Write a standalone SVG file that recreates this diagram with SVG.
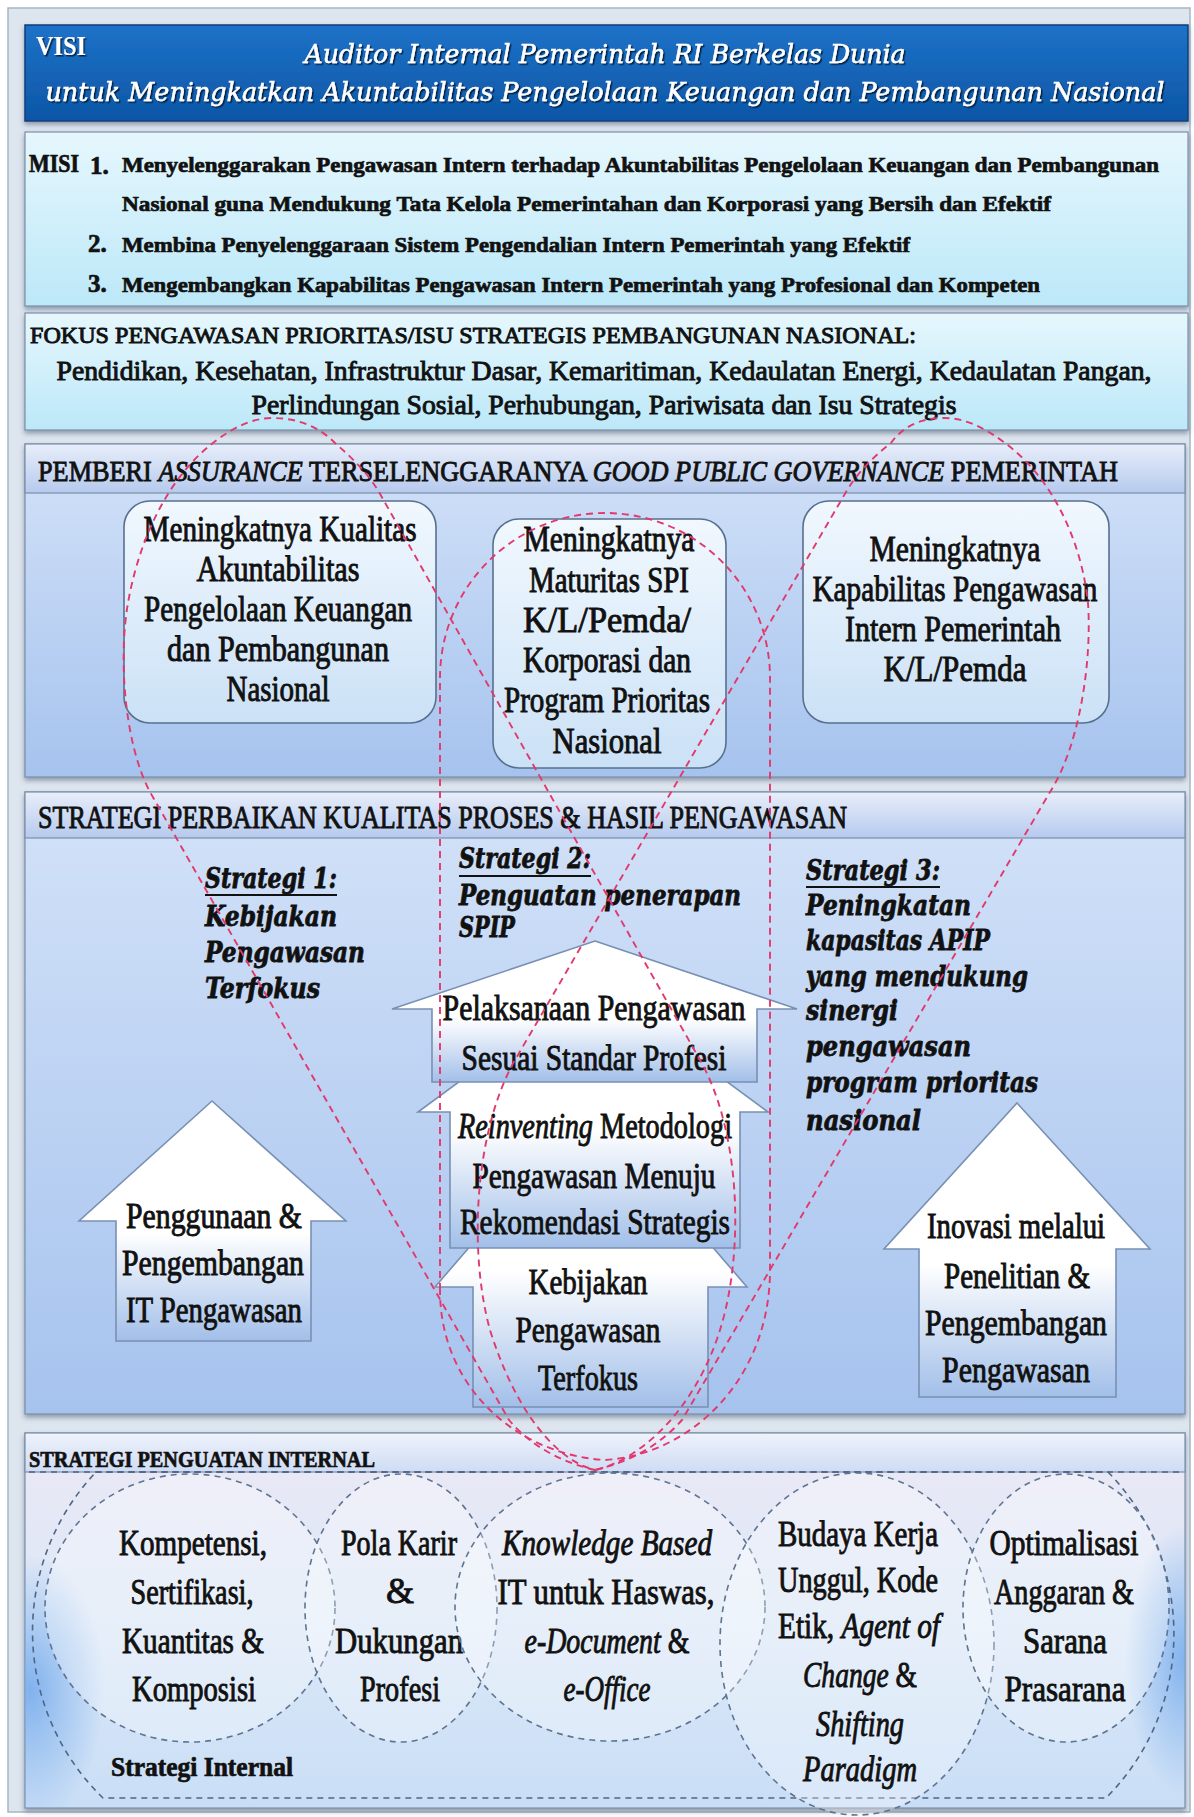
<svg xmlns="http://www.w3.org/2000/svg" width="1194" height="1817" viewBox="0 0 1194 1817">
<defs>
  <linearGradient id="gBan" x1="0" y1="0" x2="0" y2="1">
    <stop offset="0" stop-color="#1d72c8"/><stop offset="1" stop-color="#0d56a6"/>
  </linearGradient>
  <linearGradient id="gCyan" x1="0" y1="0" x2="0" y2="1">
    <stop offset="0" stop-color="#e6f7fd"/><stop offset="1" stop-color="#bce8f8"/>
  </linearGradient>
  <linearGradient id="gHead" x1="0" y1="0" x2="0" y2="1">
    <stop offset="0" stop-color="#e8eefa"/><stop offset="1" stop-color="#b6caee"/>
  </linearGradient>
  <linearGradient id="gHeadLow" x1="0" y1="0" x2="0" y2="1">
    <stop offset="0" stop-color="#eef2fb"/><stop offset="1" stop-color="#cfdcf4"/>
  </linearGradient>
  <linearGradient id="gBody" x1="0" y1="0" x2="0" y2="1">
    <stop offset="0" stop-color="#d3e2f8"/><stop offset="1" stop-color="#a6c3ee"/>
  </linearGradient>
  <linearGradient id="gBox" x1="0" y1="0" x2="0" y2="1">
    <stop offset="0" stop-color="#f1f8fe"/><stop offset="1" stop-color="#cbe1f6"/>
  </linearGradient>
  <linearGradient id="gArrow" x1="0" y1="0" x2="0" y2="1">
    <stop offset="0" stop-color="#ffffff"/><stop offset="0.55" stop-color="#ffffff"/><stop offset="1" stop-color="#a2bfe9"/>
  </linearGradient>
  <linearGradient id="gLow" x1="0" y1="0" x2="0" y2="1">
    <stop offset="0" stop-color="#ece8f5"/><stop offset="0.5" stop-color="#dce8f7"/><stop offset="1" stop-color="#c9def6"/>
  </linearGradient>
  <radialGradient id="gGlow" cx="0.5" cy="0.5" r="0.5">
    <stop offset="0" stop-color="#72a9ec" stop-opacity="0.85"/><stop offset="1" stop-color="#72a9ec" stop-opacity="0"/>
  </radialGradient>
  <clipPath id="lowClip"><rect x="25" y="1433" width="1160" height="375"/></clipPath>
  <filter id="sh" x="-5%" y="-30%" width="110%" height="160%">
    <feDropShadow dx="1.5" dy="1.5" stdDeviation="0.7" flood-color="#061f40" flood-opacity="0.95"/>
  </filter>
  <filter id="ps" x="-2%" y="-5%" width="104%" height="115%">
    <feDropShadow dx="0" dy="3" stdDeviation="2.5" flood-color="#4c5d75" flood-opacity="0.55"/>
  </filter>
</defs>
<style>
  .t { font-family: 'Liberation Serif', 'DejaVu Serif', serif; fill: #111; stroke: #111; stroke-width: 0.9; }
  .b { font-weight: bold; stroke-width: 0.7; }
  .i { font-style: italic; }
  .c { text-anchor: middle; }
  .slab { font-family: 'DejaVu Serif', serif; font-weight: bold; font-style: italic; fill: #111; stroke: #111; stroke-width: 0.8; font-size: 27px; }
  .ban { font-family: 'DejaVu Serif', serif; font-style: italic; fill: #ffffff; stroke: #ffffff; stroke-width: 0.5; font-size: 26px; filter: url(#sh); }
  .visi { font-family: 'Liberation Serif', serif; font-weight: bold; font-size: 28px; fill: #ffffff; filter: url(#sh); }
  .panel { stroke: #7a8fa9; stroke-width: 1.2; filter: url(#ps); }
  .box { fill: url(#gBox); stroke: #57708f; stroke-width: 1.6; }
  .arrow { fill: url(#gArrow); stroke: #7890b2; stroke-width: 1.6; }
  .cir { fill: #ffffff; fill-opacity: 0.3; stroke: #5e7492; stroke-width: 1.6; stroke-dasharray: 6 5; }
  .outline { fill: none; stroke: #4e6686; stroke-width: 1.6; stroke-dasharray: 6 5; }
  .rd { fill: none; stroke: #e2396d; stroke-width: 1.9; stroke-dasharray: 7 5; }
  .ul { stroke: #111; stroke-width: 1.8; }
</style>

<!-- page and frame -->
<rect x="0" y="0" width="1194" height="1817" fill="#ffffff"/>
<rect x="8" y="8" width="1182" height="1804" fill="#dde5ee" stroke="#a8b5c5" stroke-width="1.5"/>

<!-- VISI -->
<g id="visi">
  <rect x="25" y="25" width="1163" height="96" fill="url(#gBan)" stroke="#0a3f7c" stroke-width="1.5" filter="url(#ps)"/>
  <text class="visi" x="36" y="55" textLength="50" lengthAdjust="spacingAndGlyphs">VISI</text>
  <text class="ban c" x="605" y="63" textLength="601" lengthAdjust="spacingAndGlyphs">Auditor Internal Pemerintah RI Berkelas Dunia</text>
  <text class="ban c" x="605" y="101" textLength="1119" lengthAdjust="spacingAndGlyphs">untuk Meningkatkan Akuntabilitas Pengelolaan Keuangan dan Pembangunan Nasional</text>
</g>

<!-- MISI -->
<g id="misi">
  <rect class="panel" x="25" y="132" width="1163" height="174" fill="url(#gCyan)"/>
  <g class="t b" font-size="22">
    <text x="29" y="172" font-size="25" textLength="50" lengthAdjust="spacingAndGlyphs">MISI</text>
    <text x="90" y="174" font-size="25">1.</text>
    <text x="122" y="172" textLength="1037" lengthAdjust="spacingAndGlyphs">Menyelenggarakan Pengawasan Intern terhadap Akuntabilitas Pengelolaan Keuangan dan Pembangunan</text>
    <text x="122" y="211" textLength="929" lengthAdjust="spacingAndGlyphs">Nasional guna Mendukung Tata Kelola Pemerintahan dan Korporasi yang Bersih dan Efektif</text>
    <text x="88" y="252" font-size="25">2.</text>
    <text x="122" y="252" textLength="788" lengthAdjust="spacingAndGlyphs">Membina Penyelenggaraan Sistem Pengendalian Intern Pemerintah yang Efektif</text>
    <text x="88" y="292" font-size="25">3.</text>
    <text x="122" y="292" textLength="918" lengthAdjust="spacingAndGlyphs">Mengembangkan Kapabilitas Pengawasan Intern Pemerintah yang Profesional dan Kompeten</text>
  </g>
</g>

<!-- FOKUS -->
<g id="fokus">
  <rect class="panel" x="25" y="313" width="1163" height="117" fill="url(#gCyan)"/>
  <g class="t">
    <text x="30" y="343" font-size="23" textLength="886" lengthAdjust="spacingAndGlyphs">FOKUS PENGAWASAN PRIORITAS/ISU STRATEGIS PEMBANGUNAN NASIONAL:</text>
    <text class="c" x="604" y="380" font-size="27" textLength="1095" lengthAdjust="spacingAndGlyphs">Pendidikan, Kesehatan, Infrastruktur Dasar, Kemaritiman, Kedaulatan Energi, Kedaulatan Pangan,</text>
    <text class="c" x="604" y="414" font-size="27" textLength="705" lengthAdjust="spacingAndGlyphs">Perlindungan Sosial, Perhubungan, Pariwisata dan Isu Strategis</text>
  </g>
</g>

<!-- ASSURANCE panel -->
<g id="assurance">
  <rect class="panel" x="25" y="444" width="1160" height="333" fill="url(#gBody)"/>
  <rect x="25" y="444" width="1160" height="49" fill="url(#gHead)" stroke="#7a8fa9" stroke-width="1.2"/>
  <text class="t" x="38" y="481" font-size="30" textLength="1080" lengthAdjust="spacingAndGlyphs">PEMBERI <tspan class="i">ASSURANCE</tspan> TERSELENGGARANYA <tspan class="i">GOOD PUBLIC GOVERNANCE</tspan> PEMERINTAH</text>
</g>

<g id="out-akuntabilitas">
  <rect class="box" x="124" y="501" width="312" height="222" rx="26"/>
  <g class="t c" font-size="35">
    <text x="280" y="541" textLength="273" lengthAdjust="spacingAndGlyphs">Meningkatnya Kualitas</text>
    <text x="278" y="581" textLength="163" lengthAdjust="spacingAndGlyphs">Akuntabilitas</text>
    <text x="278" y="621" textLength="268" lengthAdjust="spacingAndGlyphs">Pengelolaan Keuangan</text>
    <text x="278" y="661" textLength="222" lengthAdjust="spacingAndGlyphs">dan Pembangunan</text>
    <text x="278" y="701" textLength="103" lengthAdjust="spacingAndGlyphs">Nasional</text>
  </g>
</g>

<g id="out-maturitas">
  <rect class="box" x="493" y="519" width="233" height="249" rx="26"/>
  <g class="t c" font-size="35">
    <text x="609" y="551" textLength="171" lengthAdjust="spacingAndGlyphs">Meningkatnya</text>
    <text x="609" y="592" textLength="160" lengthAdjust="spacingAndGlyphs">Maturitas SPI</text>
    <text x="607" y="632" textLength="168" lengthAdjust="spacingAndGlyphs">K/L/Pemda/</text>
    <text x="607" y="672" textLength="168" lengthAdjust="spacingAndGlyphs">Korporasi dan</text>
    <text x="607" y="712" textLength="206" lengthAdjust="spacingAndGlyphs">Program Prioritas</text>
    <text x="607" y="753" textLength="109" lengthAdjust="spacingAndGlyphs">Nasional</text>
  </g>
</g>

<g id="out-kapabilitas">
  <rect class="box" x="803" y="501" width="306" height="222" rx="26"/>
  <g class="t c" font-size="35">
    <text x="955" y="561" textLength="171" lengthAdjust="spacingAndGlyphs">Meningkatnya</text>
    <text x="955" y="601" textLength="285" lengthAdjust="spacingAndGlyphs">Kapabilitas Pengawasan</text>
    <text x="953" y="641" textLength="216" lengthAdjust="spacingAndGlyphs">Intern Pemerintah</text>
    <text x="955" y="681" textLength="143" lengthAdjust="spacingAndGlyphs">K/L/Pemda</text>
  </g>
</g>

<!-- STRATEGI panel -->
<g id="strategi">
  <rect class="panel" x="25" y="792" width="1160" height="622" fill="url(#gBody)"/>
  <rect x="25" y="792" width="1160" height="46" fill="url(#gHead)" stroke="#7a8fa9" stroke-width="1.2"/>
  <text class="t" x="38" y="828" font-size="31" textLength="809" lengthAdjust="spacingAndGlyphs">STRATEGI PERBAIKAN KUALITAS PROSES &amp; HASIL PENGAWASAN</text>
</g>

<g id="strategi-1">
  <text class="slab" x="205" y="888" textLength="132" lengthAdjust="spacingAndGlyphs">Strategi 1:</text>
  <line class="ul" x1="205" y1="895" x2="337" y2="895"/>
  <text class="slab" x="205" y="926" textLength="132" lengthAdjust="spacingAndGlyphs">Kebijakan</text>
  <text class="slab" x="205" y="962" textLength="160" lengthAdjust="spacingAndGlyphs">Pengawasan</text>
  <text class="slab" x="205" y="998" textLength="115" lengthAdjust="spacingAndGlyphs">Terfokus</text>
</g>
<g id="strategi-2">
  <text class="slab" x="459" y="868" textLength="132" lengthAdjust="spacingAndGlyphs">Strategi 2:</text>
  <line class="ul" x1="459" y1="876" x2="591" y2="876"/>
  <text class="slab" x="459" y="905" font-size="25" textLength="282" lengthAdjust="spacingAndGlyphs">Penguatan penerapan</text>
  <text class="slab" x="459" y="937" textLength="56" lengthAdjust="spacingAndGlyphs">SPIP</text>
</g>
<g id="strategi-3">
  <text class="slab" x="806" y="880" textLength="134" lengthAdjust="spacingAndGlyphs">Strategi 3:</text>
  <line class="ul" x1="806" y1="887" x2="940" y2="887"/>
  <text class="slab" x="806" y="915" textLength="165" lengthAdjust="spacingAndGlyphs">Peningkatan</text>
  <text class="slab" x="806" y="950" textLength="184" lengthAdjust="spacingAndGlyphs">kapasitas APIP</text>
  <text class="slab" x="806" y="986" textLength="222" lengthAdjust="spacingAndGlyphs">yang mendukung</text>
  <text class="slab" x="806" y="1020" textLength="92" lengthAdjust="spacingAndGlyphs">sinergi</text>
  <text class="slab" x="806" y="1056" textLength="165" lengthAdjust="spacingAndGlyphs">pengawasan</text>
  <text class="slab" x="806" y="1092" textLength="232" lengthAdjust="spacingAndGlyphs">program prioritas</text>
  <text class="slab" x="806" y="1130" textLength="115" lengthAdjust="spacingAndGlyphs">nasional</text>
</g>

<!-- up arrows -->
<g id="arrow-it">
  <polygon class="arrow" points="212,1101 346,1221 311,1221 311,1341 116,1341 116,1221 79,1221"/>
  <g class="t c" font-size="35">
    <text x="214" y="1228" textLength="176" lengthAdjust="spacingAndGlyphs">Penggunaan &amp;</text>
    <text x="213" y="1275" textLength="182" lengthAdjust="spacingAndGlyphs">Pengembangan</text>
    <text x="214" y="1322" textLength="176" lengthAdjust="spacingAndGlyphs">IT Pengawasan</text>
  </g>
</g>

<g id="arrow-kebijakan">
  <polygon class="arrow" points="591,1106 747,1287 708,1287 708,1407 473,1407 473,1287 435,1287"/>
  <g class="t c" font-size="36">
    <text x="588" y="1294" textLength="119" lengthAdjust="spacingAndGlyphs">Kebijakan</text>
    <text x="588" y="1342" textLength="145" lengthAdjust="spacingAndGlyphs">Pengawasan</text>
    <text x="588" y="1390" textLength="100" lengthAdjust="spacingAndGlyphs">Terfokus</text>
  </g>
</g>

<g id="arrow-reinventing">
  <polygon class="arrow" points="593,983 768,1112 740,1112 740,1248 450,1248 450,1112 418,1112"/>
  <g class="t c" font-size="36">
    <text x="595" y="1138" textLength="274" lengthAdjust="spacingAndGlyphs"><tspan class="i">Reinventing</tspan> Metodologi</text>
    <text x="594" y="1188" textLength="243" lengthAdjust="spacingAndGlyphs">Pengawasan Menuju</text>
    <text x="595" y="1234" textLength="270" lengthAdjust="spacingAndGlyphs">Rekomendasi Strategis</text>
  </g>
</g>

<g id="arrow-pelaksanaan">
  <polygon class="arrow" points="595,941 797,1009 757,1009 757,1082 432,1082 432,1009 392,1009"/>
  <g class="t c" font-size="36">
    <text x="594" y="1020" textLength="303" lengthAdjust="spacingAndGlyphs">Pelaksanaan Pengawasan</text>
    <text x="594" y="1070" textLength="265" lengthAdjust="spacingAndGlyphs">Sesuai Standar Profesi</text>
  </g>
</g>

<g id="arrow-inovasi">
  <polygon class="arrow" points="1017,1103 1150,1249 1116,1249 1116,1397 919,1397 919,1249 884,1249"/>
  <g class="t c" font-size="35">
    <text x="1016" y="1238" textLength="178" lengthAdjust="spacingAndGlyphs">Inovasi melalui</text>
    <text x="1017" y="1288" textLength="146" lengthAdjust="spacingAndGlyphs">Penelitian &amp;</text>
    <text x="1016" y="1335" textLength="182" lengthAdjust="spacingAndGlyphs">Pengembangan</text>
    <text x="1016" y="1382" textLength="148" lengthAdjust="spacingAndGlyphs">Pengawasan</text>
  </g>
</g>

<!-- internal strengthening panel -->
<g id="penguatan">
  <rect class="panel" x="25" y="1433" width="1160" height="375" fill="url(#gLow)"/>
  <g clip-path="url(#lowClip)">
    <ellipse cx="30" cy="1690" rx="75" ry="135" fill="url(#gGlow)"/>
    <ellipse cx="1185" cy="1660" rx="60" ry="135" fill="url(#gGlow)"/>
  </g>
  <rect x="25" y="1433" width="1160" height="39" fill="url(#gHeadLow)" stroke="#7a8fa9" stroke-width="1.2"/>
  <line class="outline" x1="29" y1="1472" x2="1180" y2="1472"/>
  <path class="outline" d="M 96,1472 L 1108,1472 A 232 232 0 0 1 1106,1798 L 103,1798 A 232 232 0 0 1 96,1472 Z"/>
  <text class="t b" x="29" y="1467" font-size="24" textLength="346" lengthAdjust="spacingAndGlyphs">STRATEGI PENGUATAN INTERNAL</text>
  <text class="t b" x="111" y="1776" font-size="27" textLength="182" lengthAdjust="spacingAndGlyphs">Strategi Internal</text>
</g>

<g id="kompetensi">
  <ellipse class="cir" cx="190" cy="1608" rx="145" ry="134"/>
  <g class="t c" font-size="36">
    <text x="193" y="1555" textLength="148" lengthAdjust="spacingAndGlyphs">Kompetensi,</text>
    <text x="192" y="1604" textLength="123" lengthAdjust="spacingAndGlyphs">Sertifikasi,</text>
    <text x="193" y="1653" textLength="142" lengthAdjust="spacingAndGlyphs">Kuantitas &amp;</text>
    <text x="194" y="1701" textLength="124" lengthAdjust="spacingAndGlyphs">Komposisi</text>
  </g>
</g>

<g id="karir">
  <ellipse class="cir" cx="401" cy="1608" rx="96" ry="134"/>
  <g class="t c" font-size="36">
    <text x="399" y="1555" textLength="116" lengthAdjust="spacingAndGlyphs">Pola Karir</text>
    <text x="400" y="1603">&amp;</text>
    <text x="399" y="1653" textLength="128" lengthAdjust="spacingAndGlyphs">Dukungan</text>
    <text x="400" y="1701" textLength="80" lengthAdjust="spacingAndGlyphs">Profesi</text>
  </g>
</g>

<g id="knowledge">
  <ellipse class="cir" cx="610" cy="1607" rx="155" ry="134"/>
  <g class="t c" font-size="36">
    <text class="i" x="607" y="1555" textLength="210" lengthAdjust="spacingAndGlyphs">Knowledge Based</text>
    <text x="606" y="1604" textLength="217" lengthAdjust="spacingAndGlyphs">IT untuk Haswas,</text>
    <text x="607" y="1653" textLength="165" lengthAdjust="spacingAndGlyphs"><tspan class="i">e-Document</tspan> &amp;</text>
    <text class="i" x="607" y="1701" textLength="87" lengthAdjust="spacingAndGlyphs">e-Office</text>
  </g>
</g>

<g id="budaya">
  <ellipse class="cir" cx="857" cy="1644" rx="137" ry="171"/>
  <g class="t c" font-size="36">
    <text x="858" y="1546" textLength="160" lengthAdjust="spacingAndGlyphs">Budaya Kerja</text>
    <text x="858" y="1592" textLength="160" lengthAdjust="spacingAndGlyphs">Unggul, Kode</text>
    <text x="859" y="1638" textLength="162" lengthAdjust="spacingAndGlyphs">Etik, <tspan class="i">Agent of</tspan></text>
    <text x="860" y="1687" textLength="114" lengthAdjust="spacingAndGlyphs"><tspan class="i">Change</tspan> &amp;</text>
    <text class="i" x="860" y="1736" textLength="88" lengthAdjust="spacingAndGlyphs">Shifting</text>
    <text class="i" x="860" y="1781" textLength="114" lengthAdjust="spacingAndGlyphs">Paradigm</text>
  </g>
</g>

<g id="anggaran">
  <ellipse class="cir" cx="1066" cy="1608" rx="103" ry="134"/>
  <g class="t c" font-size="36">
    <text x="1064" y="1555" textLength="149" lengthAdjust="spacingAndGlyphs">Optimalisasi</text>
    <text x="1064" y="1604" textLength="140" lengthAdjust="spacingAndGlyphs">Anggaran &amp;</text>
    <text x="1065" y="1653" textLength="84" lengthAdjust="spacingAndGlyphs">Sarana</text>
    <text x="1065" y="1701" textLength="121" lengthAdjust="spacingAndGlyphs">Prasarana</text>
  </g>
</g>

<!-- dashed red loops tying outcomes to strategies -->
<g id="connectors">
  <path class="rd" d="M 595,1470 C 560,1462 530,1445 509,1420 L 150,792 C 125,745 118,660 128,603 C 138,545 165,480 213,443 C 232,428 252,418 272,418 C 300,418 320,428 335,443 C 352,458 367,472 379,492 L 700,1060 C 740,1130 745,1250 720,1330 C 695,1410 640,1460 595,1470 Z"/>
  <path class="rd" d="M 595,1470 C 630,1462 660,1445 682,1420 L 1050,792 C 1080,745 1092,660 1088,603 C 1082,545 1055,480 1005,443 C 985,428 965,418 944,418 C 918,418 902,428 891,443 C 872,458 858,472 846,492 L 515,1060 C 475,1130 468,1250 490,1330 C 515,1410 555,1460 595,1470 Z"/>
  <path class="rd" d="M 440,1290 L 440,678 A 165 165 0 0 1 770,678 L 770,1270 C 770,1380 690,1455 605,1460 C 520,1455 440,1390 440,1290 Z"/>
</g>
</svg>
